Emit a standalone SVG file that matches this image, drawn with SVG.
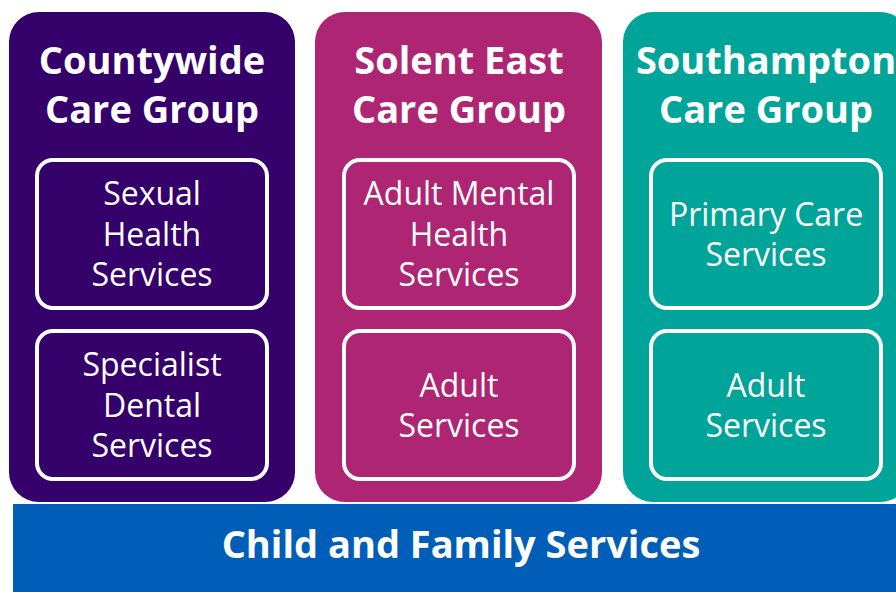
<svg xmlns="http://www.w3.org/2000/svg" width="896" height="592" viewBox="0 0 896 592">
  <style>
    .group { stroke: none; }
    .service { fill: none; stroke: #ffffff; stroke-width: 4; }
    .title { font-family: "Open Sans", "Liberation Sans", sans-serif; font-weight: bold; font-size: 38px; fill: #ffffff; text-anchor: middle; }
    .label { font-family: "Open Sans", "Liberation Sans", sans-serif; font-size: 32px; fill: #ffffff; text-anchor: middle; }
  </style>
  <rect x="0" y="0" width="896" height="592" fill="#ffffff"/>

  <!-- Countywide care group -->
  <g id="countywide">
    <rect class="group" x="9" y="12" width="286" height="490" rx="30" fill="#35016B"/>
    <text class="title" x="152" y="74">Countywide</text>
    <text class="title" x="152" y="123">Care Group</text>
  </g>
  <g id="sexual-health">
    <rect class="service" x="37" y="160" width="230" height="148" rx="16"/>
    <text class="label" x="152" y="205">Sexual</text>
    <text class="label" x="152" y="246">Health</text>
    <text class="label" x="152" y="286">Services</text>
  </g>
  <g id="specialist-dental">
    <rect class="service" x="37" y="331" width="230" height="148" rx="16"/>
    <text class="label" x="152" y="376">Specialist</text>
    <text class="label" x="152" y="417">Dental</text>
    <text class="label" x="152" y="457">Services</text>
  </g>

  <!-- Solent East care group -->
  <g id="solent-east">
    <rect class="group" x="315" y="12" width="287" height="490" rx="30" fill="#AE2573"/>
    <text class="title" x="459" y="74">Solent East</text>
    <text class="title" x="459" y="123">Care Group</text>
  </g>
  <g id="adult-mental-health">
    <rect class="service" x="344" y="160" width="230" height="148" rx="16"/>
    <text class="label" x="459" y="205">Adult Mental</text>
    <text class="label" x="459" y="246">Health</text>
    <text class="label" x="459" y="286">Services</text>
  </g>
  <g id="solent-adult">
    <rect class="service" x="344" y="331" width="230" height="148" rx="16"/>
    <text class="label" x="459" y="397">Adult</text>
    <text class="label" x="459" y="437">Services</text>
  </g>

  <!-- Southampton care group -->
  <g id="southampton">
    <rect class="group" x="623" y="12" width="287" height="490" rx="30" fill="#00A499"/>
    <text class="title" x="766" y="74">Southampton</text>
    <text class="title" x="766" y="123">Care Group</text>
  </g>
  <g id="primary-care">
    <rect class="service" x="651" y="160" width="230" height="148" rx="16"/>
    <text class="label" x="766" y="226">Primary Care</text>
    <text class="label" x="766" y="266">Services</text>
  </g>
  <g id="southampton-adult">
    <rect class="service" x="651" y="331" width="230" height="148" rx="16"/>
    <text class="label" x="766" y="397">Adult</text>
    <text class="label" x="766" y="437">Services</text>
  </g>

  <!-- Shared service band -->
  <g id="child-family">
    <rect x="13" y="504" width="890" height="88" fill="#005EB8"/>
    <text class="title" x="461" y="558">Child and Family Services</text>
  </g>
</svg>
